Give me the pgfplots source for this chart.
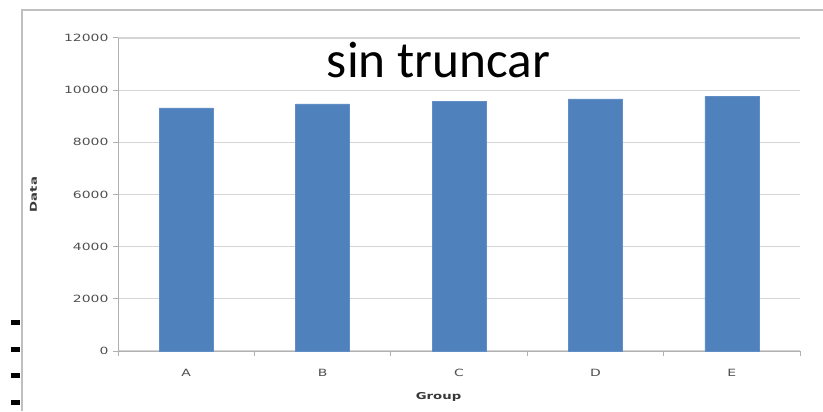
\documentclass[border=0pt]{standalone}
\usepackage{pgfplots}
\pgfplotsset{compat=1.18}
\usepackage{fontspec}
\setmainfont{DejaVu Sans}[FakeStretch=1.4]
\newfontfamily\titlefont{Carlito}
\definecolor{barblue}{HTML}{4F81BD}
\definecolor{gridgray}{HTML}{D4D4D4}
\definecolor{axgray}{HTML}{B0B0B0}
\definecolor{txtgray}{HTML}{505050}
\begin{document}
\begin{tikzpicture}[x=1bp,y=1bp]
\path[use as bounding box] (0,0) rectangle (823,411);
% outer frame
\draw[gridgray!90!black, line width=1.5bp] (22,0) -- (22,401) -- (823,401);
% decorative dashes at left
\foreach \yy in {89,62,36,9} {\draw[black, line width=5bp] (11,\yy) -- (20,\yy);}
\begin{axis}[
  at={(118bp,60bp)}, anchor=south west,
  scale only axis, width=682bp, height=313bp,
  xmin=-0.5, xmax=4.5, ymin=0, ymax=12000,
  axis x line*=bottom, axis y line*=left,
  axis line style={axgray, line width=1bp},
  xtick={0,1,2,3,4}, xticklabels={A,B,C,D,E},
  minor xtick={-0.5,0.5,1.5,2.5,3.5,4.5},
  ytick={0,2000,4000,6000,8000,10000,12000},
  scaled y ticks=false,
  tick align=outside,
  major tick length=5bp, minor tick length=5bp,
  x tick style={draw=none},
  minor x tick style={draw=axgray, line width=1bp},
  y tick style={axgray, line width=1bp},
  ymajorgrids, grid style={gridgray, line width=1.2bp},
  /pgf/number format/assume math mode=true,
  /pgf/number format/set thousands separator={},
  tick label style={font=\fontsize{10}{12}\selectfont, text=txtgray},
  yticklabel style={xshift=-1bp},
  xticklabel style={yshift=-10bp},
  xlabel={\textbf{Group}}, ylabel={\textbf{Data}},
  label style={font=\fontsize{9.5}{11}\selectfont, text=txtgray!70!black},
  xlabel style={at={(axis description cs:0.47,-0.148)}, anchor=center},
  ylabel style={at={(axis description cs:-0.124,0.5)}, anchor=center},
  clip=false,
]
\addplot[ybar, bar width=54bp, fill=barblue, draw=barblue!90!white, line width=0.5bp]
  coordinates {(0,9320) (1,9470) (2,9570) (3,9670) (4,9760)};
\end{axis}
\node[anchor=base, font=\titlefont\fontsize{51.5}{60}\selectfont, inner sep=0] at (438.5,334) {sin truncar};
\end{tikzpicture}
\end{document}
